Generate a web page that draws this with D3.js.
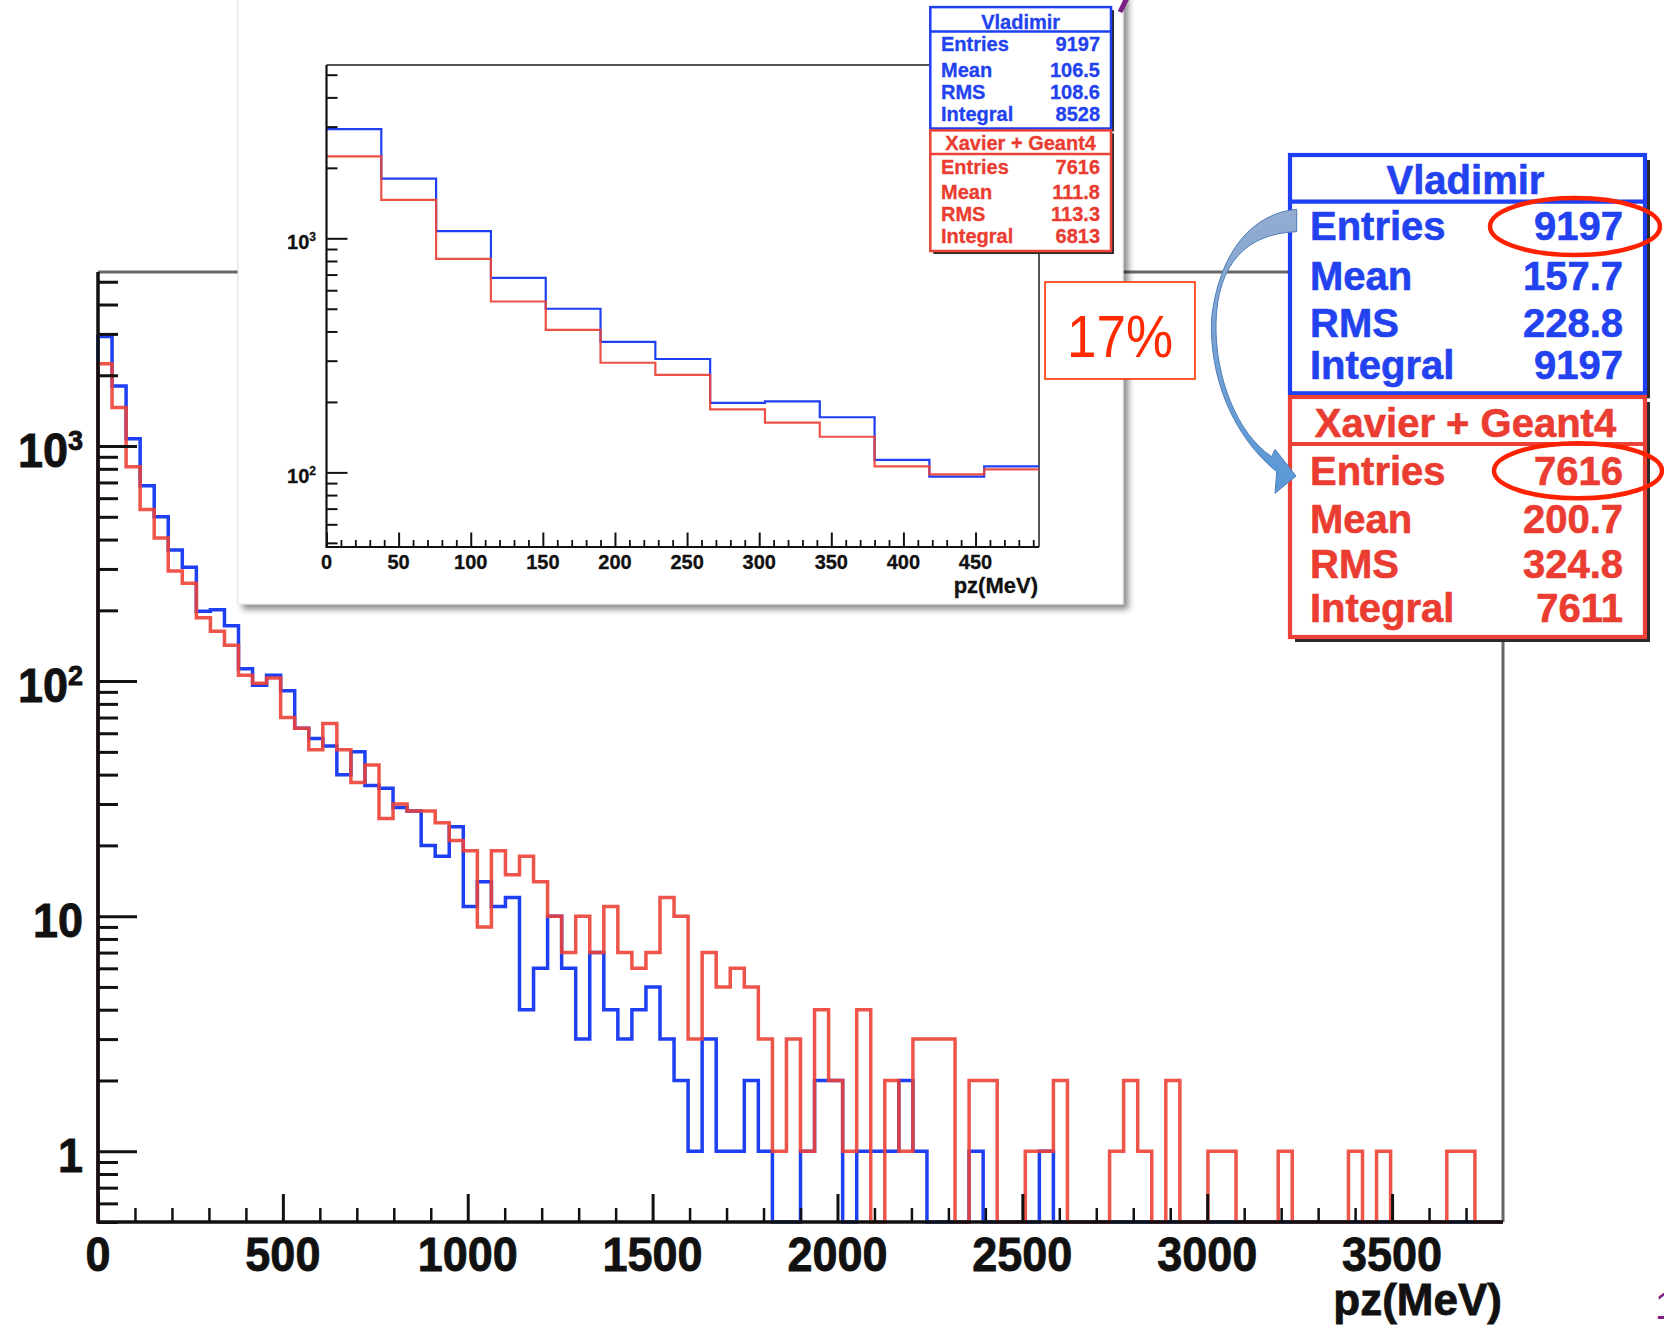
<!DOCTYPE html>
<html>
<head>
<meta charset="utf-8">
<script src="https://cdn.jsdelivr.net/npm/d3@7"></script>
<style>
  html, body { margin: 0; padding: 0; background: #ffffff; }
  svg { display: block; }
  text { font-family: "Liberation Sans", Arial, Helvetica, sans-serif; }
</style>
</head>
<body>
<svg id="chart" width="1664" height="1327"></svg>
<script>
// ---------- data ----------
const BIN_WIDTH = 38;            // MeV per bin, 100 bins over 0..3800
const INSET_BINS = 13;           // the zoomed panel shows 0..494 MeV

const vladimirCounts = [
  2925, 1800, 1073, 678, 500, 361, 305, 198, 201, 172, 113, 96, 106,
  91, 63, 57, 53, 40, 50, 36, 35, 29, 28, 20, 18, 24, 11, 14, 11, 12,
  4, 6, 10, 6, 3, 7, 4, 3, 4, 5, 3, 2, 1, 3, 1, 1, 2, 1, 0, 0,
  1, 2, 2, 0, 1, 1, 1, 2, 1, 0, 0, 0, 1, 0, 0, 0, 0, 1, 0, 0,
  0, 0, 0, 0, 0, 0, 0, 0, 0, 0, 0, 0, 0, 0, 0, 0, 0, 0, 0, 0,
  0, 0, 0, 0, 0, 0, 0, 0, 0, 0
];

const xavierCounts = [
  2240, 1460, 817, 537, 406, 294, 261, 186, 163, 142, 106, 98, 103,
  70, 63, 51, 66, 51, 37, 44, 26, 30, 28, 28, 25, 21, 19, 9, 19, 15,
  18, 14, 10, 7, 10, 7, 11, 7, 6, 7, 12, 10, 3, 7, 5, 6, 5, 3, 1, 3,
  1, 4, 2, 1, 4, 0, 2, 1, 3, 3, 3, 0, 2, 2, 0, 0, 1, 1, 2, 0,
  0, 0, 1, 2, 1, 0, 2, 0, 0, 1, 1, 0, 0, 0, 1, 0, 0, 0, 0, 1,
  0, 1, 0, 0, 0, 0, 1, 1, 0, 0
];

const mainXTickValues = [0, 500, 1000, 1500, 2000, 2500, 3000, 3500];
const mainYTickValues = [1, 10, 100, 1000];
const mainYTickLabels = [
  { base: "1", exp: "" }, { base: "10", exp: "" },
  { base: "10", exp: "2" }, { base: "10", exp: "3" }
];
const insetXTickValues = [0, 50, 100, 150, 200, 250, 300, 350, 400, 450];
const insetYTickValues = [100, 1000];
const insetYTickLabels = [{ base: "10", exp: "2" }, { base: "10", exp: "3" }];
const axisTitle = "pz(MeV)";

const seriesNames = ["Vladimir", "Xavier + Geant4"];
const statRowNames = ["Entries", "Mean", "RMS", "Integral"];
const fullStatsVladimir = ["9197", "157.7", "228.8", "9197"];
const fullStatsXavier = ["7616", "200.7", "324.8", "7611"];
const insetStatsVladimir = ["9197", "106.5", "108.6", "8528"];
const insetStatsXavier = ["7616", "111.8", "113.3", "6813"];
const ratioLabel = "17%";

// ---------- styling ----------
const BLUE = "#1f3ff2";
const RED = "#ec4136";
const BLUE_TXT = "#2342ef";
const RED_TXT = "#ea3c30";
const INK = "#111111";

const svg = d3.select("#chart");
const defs = svg.append("defs");

const shadow = defs.append("filter").attr("id", "panelShadow")
  .attr("x", "-5%").attr("y", "-5%").attr("width", "115%").attr("height", "115%");
shadow.append("feDropShadow").attr("dx", 5).attr("dy", 5)
  .attr("stdDeviation", 3).attr("flood-color", "#000").attr("flood-opacity", 0.45);

const grad = defs.append("linearGradient").attr("id", "arrowFill")
  .attr("x1", 0).attr("y1", 0).attr("x2", 0).attr("y2", 1);
grad.append("stop").attr("offset", "0%").attr("stop-color", "#94acd0");
grad.append("stop").attr("offset", "100%").attr("stop-color", "#5898d8");

// text helper: optional vertical stretch, outline weight and an exponent tspan
function addText(parent, o) {
  const t = parent.append("text")
    .attr("transform", `translate(${o.x},${o.y}) scale(1,${o.sy || 1})`)
    .attr("text-anchor", o.anchor || "start")
    .attr("font-size", o.size)
    .attr("font-weight", o.weight || "bold")
    .attr("fill", o.fill || INK);
  if (o.heavy) t.attr("stroke", o.fill || INK).attr("stroke-width", o.heavy);
  t.append("tspan").text(o.text);
  if (o.exp) {
    t.append("tspan").attr("font-size", o.expSize).attr("dy", -o.expRise).text(o.exp);
  }
  return t;
}

// step outline of a histogram; empty bins sit on the lower edge of a log axis
function histLine(counts, x, y, floor, nBins, dropEnds) {
  const yv = v => y(Math.max(v, floor));
  const pts = [];
  if (dropEnds) pts.push([x(0), y(floor)]);
  for (let i = 0; i < nBins; i++) {
    pts.push([x(i * BIN_WIDTH), yv(counts[i])]);
    pts.push([x((i + 1) * BIN_WIDTH), yv(counts[i])]);
  }
  if (dropEnds) pts.push([x(nBins * BIN_WIDTH), y(floor)]);
  return d3.line()(pts);
}

function logMinorTicks(lo, hi) {
  const out = [];
  for (let e = -1; e <= 4; e++) {
    for (let m = 2; m <= 9; m++) {
      const v = m * Math.pow(10, e);
      if (v >= lo && v <= hi) out.push(v);
    }
  }
  return out;
}

function styleAxis(g, width) {
  g.select(".domain").remove();
  g.selectAll(".tick line").attr("stroke-width", width);
}

// ---------- main histogram ----------
const xMain = d3.scaleLinear().domain([0, 3800]).range([98, 1503]);
const yMain = d3.scaleLog().domain([0.5, 5500]).range([1222, 272]);

const main = svg.append("g");

// frame (top and right)
main.append("path")
  .attr("d", `M${xMain(0)},${yMain(5500)} H${xMain(3800)} V${yMain(0.5)}`)
  .attr("fill", "none").attr("stroke", "#666").attr("stroke-width", 3);

main.append("path")
  .attr("d", histLine(vladimirCounts, xMain, yMain, 0.5, vladimirCounts.length, true))
  .attr("fill", "none").attr("stroke", BLUE).attr("stroke-width", 3.5)
  .attr("stroke-linejoin", "miter");
main.append("path")
  .attr("d", histLine(xavierCounts, xMain, yMain, 0.5, xavierCounts.length, true))
  .attr("fill", "none").attr("stroke", RED).attr("stroke-width", 3.5)
  .attr("stroke-opacity", 0.9).attr("stroke-linejoin", "miter");

// axes
const mainYAxisG = main.append("g").attr("color", INK)
  .attr("transform", `translate(${xMain(0)},0)`);
mainYAxisG.append("g")
  .call(d3.axisRight(yMain).tickValues(mainYTickValues).tickSize(39).tickFormat(""))
  .call(g => styleAxis(g, 3));
mainYAxisG.append("g")
  .call(d3.axisRight(yMain).tickValues(logMinorTicks(0.5, 5500)).tickSize(20).tickFormat(""))
  .call(g => styleAxis(g, 3));

const mainXAxisG = main.append("g").attr("color", INK)
  .attr("transform", `translate(0,${yMain(0.5)})`);
mainXAxisG.append("g")
  .call(d3.axisTop(xMain).tickValues(mainXTickValues).tickSize(28).tickFormat(""))
  .call(g => styleAxis(g, 3));
mainXAxisG.append("g")
  .call(d3.axisTop(xMain)
    .tickValues(d3.range(100, 3800, 100).filter(v => v % 500 !== 0))
    .tickSize(14).tickFormat(""))
  .call(g => styleAxis(g, 2.5));

main.append("path")
  .attr("d", `M${xMain(0)},${yMain(5500)} V${yMain(0.5)} H${xMain(3800)}`)
  .attr("fill", "none").attr("stroke", INK).attr("stroke-width", 3.5);

mainXTickValues.forEach(v => addText(main, {
  x: xMain(v), y: 1271, text: String(v), size: 45, sy: 1.08, anchor: "middle", heavy: 0.8
}));
mainYTickValues.forEach((v, i) => addText(main, {
  x: 83, y: yMain(v) + 21, text: mainYTickLabels[i].base, exp: mainYTickLabels[i].exp,
  size: 45, sy: 1.05, expSize: 27, expRise: 16, anchor: "end", heavy: 0.8
}));
addText(main, { x: 1502, y: 1315, text: axisTitle, size: 44, anchor: "end", heavy: 0.8 });

// ---------- zoomed panel ----------
const inset = svg.append("g");
inset.append("rect")
  .attr("x", 238).attr("y", -10).attr("width", 885).attr("height", 614)
  .attr("fill", "#fff").attr("stroke", "#e2e2e2").attr("stroke-width", 1)
  .attr("filter", "url(#panelShadow)");

const xIn = d3.scaleLinear().domain([0, INSET_BINS * BIN_WIDTH]).range([326.5, 1039]);
const yIn = d3.scaleLog().domain([48, 5500]).range([547, 65]);

defs.append("clipPath").attr("id", "insetClip").append("rect")
  .attr("x", xIn(0)).attr("y", yIn(5500))
  .attr("width", xIn(INSET_BINS * BIN_WIDTH) - xIn(0))
  .attr("height", yIn(48) - yIn(5500));

inset.append("path")
  .attr("d", `M${xIn(0)},${yIn(5500)} H${xIn(INSET_BINS * BIN_WIDTH)} V${yIn(48)}`)
  .attr("fill", "none").attr("stroke", "#555").attr("stroke-width", 2);

const insetHist = inset.append("g").attr("clip-path", "url(#insetClip)");
insetHist.append("path")
  .attr("d", histLine(vladimirCounts, xIn, yIn, 48, INSET_BINS, false))
  .attr("fill", "none").attr("stroke", BLUE).attr("stroke-width", 2.2);
insetHist.append("path")
  .attr("d", histLine(xavierCounts, xIn, yIn, 48, INSET_BINS, false))
  .attr("fill", "none").attr("stroke", RED).attr("stroke-width", 2.2)
  .attr("stroke-opacity", 0.92);

const inYAxisG = inset.append("g").attr("color", INK)
  .attr("transform", `translate(${xIn(0)},0)`);
inYAxisG.append("g")
  .call(d3.axisRight(yIn).tickValues(insetYTickValues).tickSize(21).tickFormat(""))
  .call(g => styleAxis(g, 2));
inYAxisG.append("g")
  .call(d3.axisRight(yIn).tickValues(logMinorTicks(48, 5500)).tickSize(11).tickFormat(""))
  .call(g => styleAxis(g, 2));

const inXAxisG = inset.append("g").attr("color", INK)
  .attr("transform", `translate(0,${yIn(48)})`);
inXAxisG.append("g")
  .call(d3.axisTop(xIn).tickValues(insetXTickValues).tickSize(14.5).tickFormat(""))
  .call(g => styleAxis(g, 2));
inXAxisG.append("g")
  .call(d3.axisTop(xIn)
    .tickValues(d3.range(10, 494, 10).filter(v => v % 50 !== 0))
    .tickSize(7).tickFormat(""))
  .call(g => styleAxis(g, 1.8));

inset.append("path")
  .attr("d", `M${xIn(0)},${yIn(5500)} V${yIn(48)} H${xIn(INSET_BINS * BIN_WIDTH)}`)
  .attr("fill", "none").attr("stroke", INK).attr("stroke-width", 2.2);

insetXTickValues.forEach(v => addText(inset, {
  x: xIn(v), y: 569, text: String(v), size: 20, sy: 1.02, anchor: "middle", heavy: 0.3
}));
insetYTickValues.forEach((v, i) => addText(inset, {
  x: 316, y: yIn(v) + 11, text: insetYTickLabels[i].base, exp: insetYTickLabels[i].exp,
  size: 20, expSize: 12, expRise: 8, anchor: "end", heavy: 0.3
}));
addText(inset, { x: 1038, y: 593, text: axisTitle, size: 22, anchor: "end", heavy: 0.3 });

// ---------- statistics boxes ----------
function statsBox(parent, b) {
  const g = parent.append("g");
  g.append("rect")
    .attr("x", b.x + b.sh).attr("y", b.y + b.sh).attr("width", b.w).attr("height", b.h)
    .attr("fill", "#2a2a2a");
  g.append("rect")
    .attr("x", b.x).attr("y", b.y).attr("width", b.w).attr("height", b.h)
    .attr("fill", "#fff").attr("stroke", b.color).attr("stroke-width", b.sw);
  g.append("line")
    .attr("x1", b.x).attr("x2", b.x + b.w).attr("y1", b.titleLine).attr("y2", b.titleLine)
    .attr("stroke", b.color).attr("stroke-width", b.sw);
  addText(g, { x: b.x + b.w / 2 + b.titleDx, y: b.titleBase, text: b.title,
    size: b.size, sy: b.sy, fill: b.text, anchor: "middle", heavy: b.heavy });
  statRowNames.forEach((name, i) => {
    addText(g, { x: b.labelX, y: b.rows[i], text: name, size: b.size, sy: b.sy,
      fill: b.text, heavy: b.heavy });
    addText(g, { x: b.valueX, y: b.rows[i], text: b.values[i], size: b.size, sy: b.sy,
      fill: b.text, anchor: "end", heavy: b.heavy });
  });
}

statsBox(inset, {
  x: 930.3, y: 7.1, w: 180.7, h: 121.4, sh: 3, sw: 2.5, color: BLUE, text: BLUE_TXT,
  titleLine: 31.6, titleBase: 28.5, titleDx: 0, title: seriesNames[0],
  size: 20, sy: 1.05, labelX: 941, valueX: 1100, heavy: 0.3,
  rows: [51.4, 77, 98.8, 120.5], values: insetStatsVladimir
});
statsBox(inset, {
  x: 930.3, y: 130.4, w: 180.7, h: 120.6, sh: 3, sw: 2.5, color: RED, text: RED_TXT,
  titleLine: 154, titleBase: 150, titleDx: 0, title: seriesNames[1],
  size: 20, sy: 1.05, labelX: 941, valueX: 1100, heavy: 0.3,
  rows: [174, 198.8, 220.5, 243], values: insetStatsXavier
});

// ---------- ratio note ----------
const note = svg.append("g");
note.append("rect").attr("x", 1045).attr("y", 282).attr("width", 150).attr("height", 97)
  .attr("fill", "#fff").attr("stroke", "#ff3300").attr("stroke-width", 1.6);
addText(note, { x: 1120, y: 356.5, text: ratioLabel, size: 53, sy: 1.1,
  weight: "normal", fill: "#ff2a00", anchor: "middle" });

// ---------- full-range statistics ----------
const stats = svg.append("g");
statsBox(stats, {
  x: 1290, y: 155, w: 355, h: 238.3, sh: 5, sw: 4.2, color: BLUE, text: BLUE_TXT,
  titleLine: 201.7, titleBase: 194, titleDx: -2, title: seriesNames[0],
  size: 40, sy: 1.0, labelX: 1310, valueX: 1623, heavy: 0.6,
  rows: [240, 290, 336.7, 379], values: fullStatsVladimir
});
statsBox(stats, {
  x: 1290, y: 397, w: 355, h: 240, sh: 5, sw: 4.2, color: RED, text: RED_TXT,
  titleLine: 444, titleBase: 436.7, titleDx: -2, title: seriesNames[1],
  size: 40, sy: 1.0, labelX: 1310, valueX: 1623, heavy: 0.6,
  rows: [485, 532.7, 578.3, 621.7], values: fullStatsXavier
});

// highlight rings around the entry counts
stats.append("ellipse").attr("cx", 1575).attr("cy", 226.5).attr("rx", 85).attr("ry", 28.5)
  .attr("fill", "none").attr("stroke", "#ff2200").attr("stroke-width", 4.5);
stats.append("ellipse").attr("cx", 1578).attr("cy", 470.8).attr("rx", 84).attr("ry", 27.5)
  .attr("fill", "none").attr("stroke", "#ff2200").attr("stroke-width", 4.5);

// curved arrow from the first entry count to the second
const arrow = d3.path();
arrow.moveTo(1296.7, 209.3);
arrow.bezierCurveTo(1253.3, 213.3, 1220, 250, 1211.7, 316.7);
arrow.bezierCurveTo(1208.3, 376.7, 1233.3, 436.7, 1276.7, 471.7);
arrow.lineTo(1275, 493.3);
arrow.lineTo(1296, 476);
arrow.lineTo(1275, 449.3);
arrow.lineTo(1271.7, 456.7);
arrow.bezierCurveTo(1236.7, 433.3, 1215, 376.7, 1216, 323.3);
arrow.bezierCurveTo(1217.3, 263.3, 1246.7, 233.3, 1296.7, 231.7);
arrow.closePath();
svg.append("path").attr("d", arrow.toString())
  .attr("fill", "url(#arrowFill)").attr("stroke", "#4f7fba").attr("stroke-width", 1);

// slide decorations at the page edges
svg.append("line").attr("x1", 1127).attr("y1", -2).attr("x2", 1120).attr("y2", 12)
  .attr("stroke", "#7b2186").attr("stroke-width", 5);
svg.append("text").attr("x", 1655).attr("y", 1319).attr("font-size", 38)
  .attr("fill", "#7b2186").text("1");
</script>
</body>
</html>
